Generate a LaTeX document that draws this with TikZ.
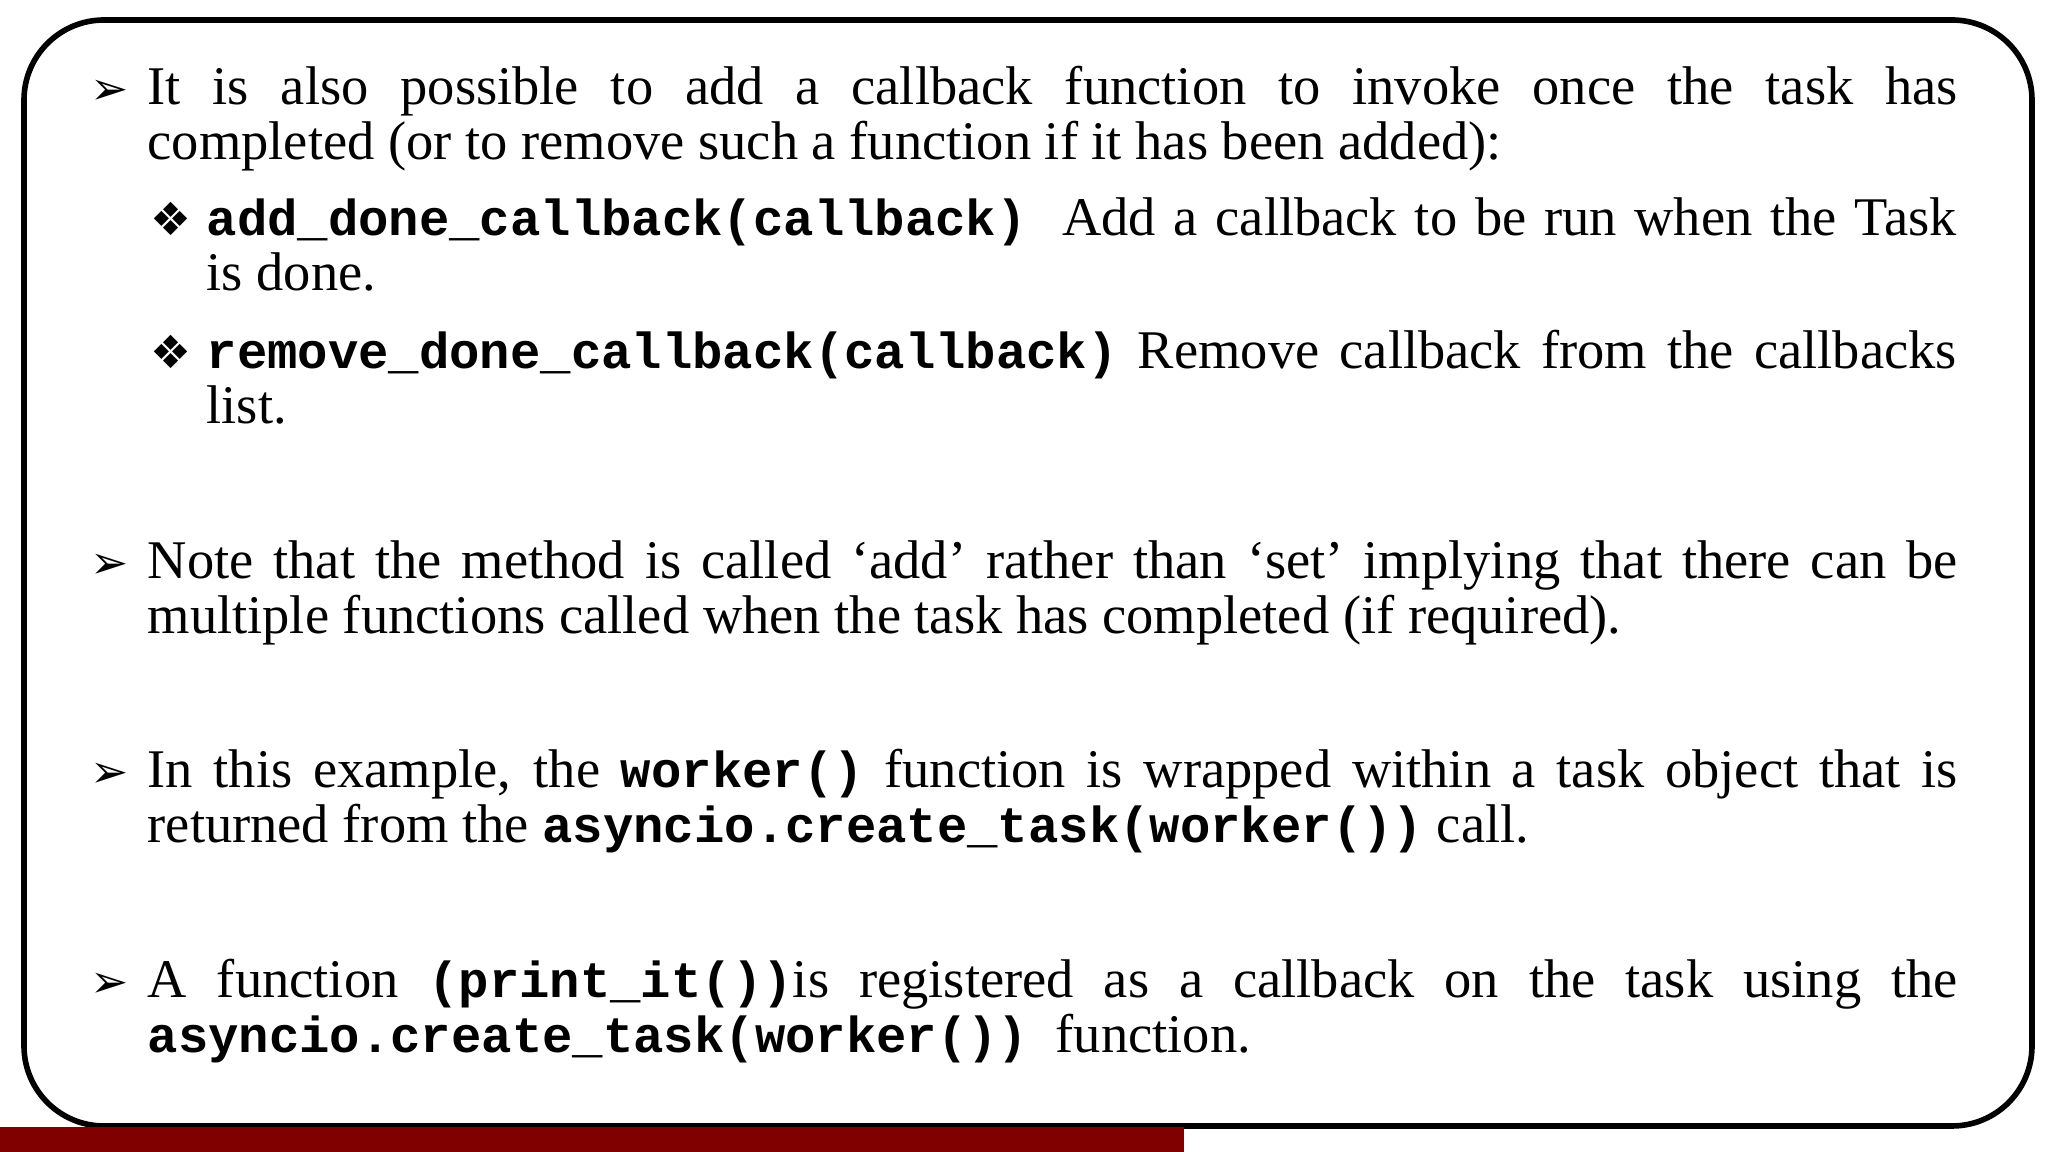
\documentclass[tikz,border=0pt]{standalone}
\usepackage{fontspec}
\setmainfont{Liberation Serif}
\setmonofont{Liberation Mono}
\newfontfamily\symfont{DejaVu Sans}
\newcommand{\cd}[1]{{\ttfamily\bfseries\fontsize{14.4}{15.6}\selectfont #1}}
\begin{document}
\begin{tikzpicture}
	\definecolor{barred}{RGB}{128,0,0}
	\tikzset{
		mainitem/.style={anchor=base west, inner sep=0pt, text width=18.1cm, align=justify, font=\fontsize{15.5}{15.6}\selectfont},
		subitem/.style={mainitem, text width=17.5cm},
		arrowmark/.style={anchor=base west, inner sep=0pt, font=\symfont\fontsize{13}{15}\selectfont},
	}
	\useasboundingbox (0,0) rectangle (20.48,11.52);
	\draw[line width=1.6pt, rounded corners=0.8cm] (0.24,0.26) rectangle (20.32,11.32);
	\fill[barred] (0,0) rectangle (11.84,0.25);
	
	% bullets
	\node[arrowmark] (a1) at (0.9,10.47) {➢};
	\node[mainitem] (t1) at (1.47,10.47) {It is also possible to add a callback function to invoke once the task has\linebreak completed (or to remove such a function if it has been added):};
	\node[arrowmark] (s1) at (1.5,9.16) {❖};
	\node[subitem] (u1) at (2.06,9.16) {\cd{add\_done\_callback(callback)}\ \ Add a callback to be run when the Task\linebreak is done.};
	\node[arrowmark] (s2) at (1.5,7.83) {❖};
	\node[subitem] (u2) at (2.06,7.83) {\cd{remove\_done\_callback(callback)} Remove callback from the callbacks\linebreak list.};
	\node[arrowmark] (a2) at (0.9,5.73) {➢};
	\node[mainitem] (t2) at (1.47,5.73) {Note that the method is called ‘add’ rather than ‘set’ implying that there can be\linebreak multiple functions called when the task has completed (if required).};
	\node[arrowmark] (a3) at (0.9,3.64) {➢};
	\node[mainitem] (t3) at (1.47,3.64) {In this example, the \cd{worker()} function is wrapped within a task object that is\linebreak returned from the \cd{asyncio.create\_task(worker())} call.};
	\node[arrowmark] (a4) at (0.9,1.54) {➢};
	\node[mainitem] (t4) at (1.47,1.54) {A function \cd{(print\_it())}is registered as a callback on the task using the\linebreak \cd{asyncio.create\_task(worker())}\ \ function.};
\end{tikzpicture}
\end{document}
